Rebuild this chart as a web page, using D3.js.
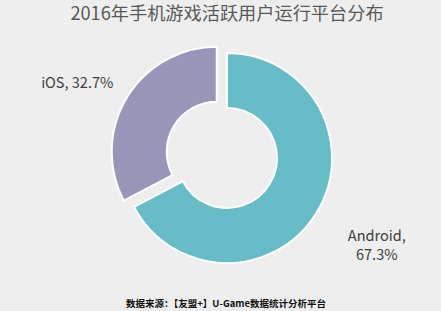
<!DOCTYPE html>
<html><head><meta charset="utf-8">
<script src="https://cdn.jsdelivr.net/npm/d3@7"></script>
<style>html,body{margin:0;padding:0;background:#eeeeee;}svg{display:block;}</style>
</head><body>
<script>
const title = "2016年手机游戏活跃用户运行平台分布";
const categories = ["Android", "iOS"];
const values = [67.3, 32.7];
const labelLines = [["Android,", "67.3%"], ["iOS, 32.7%"]];
const colors = ["#67bdc7", "#9897ba"];
const source = "数据来源：【友盟+】U-Game数据统计分析平台";

const W = 441, H = 311;
const font = "'Noto Sans CJK SC','Noto Sans',sans-serif";
const svg = d3.select("body").append("svg").attr("width", W).attr("height", H);
svg.append("rect").attr("width", W).attr("height", H).attr("fill", "#eeeeee");

svg.append("text").attr("x", 227).attr("y", 20).attr("text-anchor", "middle")
  .attr("font-family", font).attr("font-size", 18.2).attr("fill", "#595959").text(title);

const cx = 227, cy = 158, R = 105, r = 50, explode = [0, 12];
const pie = d3.pie().sort(null).value(d => d)(values);
const arc = d3.arc().outerRadius(R).innerRadius(r);
const g = svg.append("g").attr("transform", `translate(${cx},${cy})`);
g.selectAll("path").data(pie).join("path")
  .attr("d", arc)
  .attr("fill", (d, i) => colors[i])
  .attr("stroke", "#ffffff").attr("stroke-width", 2)
  .attr("transform", (d, i) => {
    const a = (d.startAngle + d.endAngle) / 2;
    return `translate(${Math.sin(a) * explode[i]},${-Math.cos(a) * explode[i]})`;
  });

// labels placed on an ellipse around the donut
const rx = 175, ry = 145;
pie.forEach((d, i) => {
  const a = (d.startAngle + d.endAngle) / 2;
  const x = Math.sin(a) * rx, y = -Math.cos(a) * ry;
  const lines = labelLines[i];
  const lh = 19;
  const y0 = y - (lines.length - 1) * lh / 2 + 5 + (lines.length > 1 ? 13 : 0);
  const t = g.append("text").attr("text-anchor", "middle")
    .attr("font-family", font).attr("font-size", 14.5).attr("fill", "#404040");
  lines.forEach((l, j) => t.append("tspan").attr("x", x).attr("y", y0 + j * lh).text(l));
});

svg.append("text").attr("x", 226).attr("y", 307).attr("text-anchor", "middle")
  .attr("font-family", font).attr("font-size", 9.5).attr("font-weight", "bold")
  .attr("fill", "#111111").text(source);
</script>
</body></html>
